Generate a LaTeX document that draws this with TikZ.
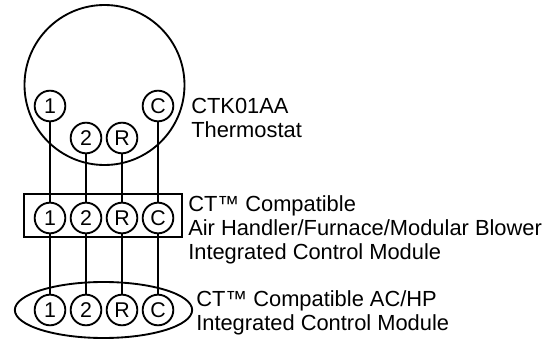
\documentclass[tikz,border=0pt]{standalone}
\usepackage{fontspec}
\setmainfont{Liberation Sans}
\usetikzlibrary{positioning,shapes.geometric}

\tikzset{
	wire/.style={line width=1.4pt},
	pin/.style={draw, circle, line width=1.4pt, inner sep=0pt, minimum size=23pt, font=\fontsize{16}{18}\selectfont},
	caption/.style={anchor=west, align=left, inner sep=0pt, font=\fontsize{16.4}{18}\selectfont},
}

\begin{document}
\begin{tikzpicture}[x=0.75pt, y=0.75pt]
	\useasboundingbox (0,0) rectangle (558,-339);

	% thermostat
	\node[draw, circle, line width=1.4pt, inner sep=0pt, minimum size=120pt] (stat) at (104.5,-85) {};
	\node[pin] (s1) at (50,-106) {1};
	\node[pin, right=56.6pt of s1] (sC) {C};
	\node[pin] (s2) at (86,-138) {2};
	\node[pin, right=2.6pt of s2] (sR) {R};

	% control module
	\node[draw, rectangle, line width=1.4pt, minimum width=119pt, minimum height=32pt, inner sep=0pt] (board) at (103,-215.5) {};
	\node[pin] (m1) at (50,-218) {1};
	\node[pin, right=2.6pt of m1] (m2) {2};
	\node[pin, right=2.6pt of m2] (mR) {R};
	\node[pin, right=2.6pt of mR] (mC) {C};

	% outdoor unit
	\node[draw, ellipse, line width=1.4pt, minimum width=133pt, minimum height=42pt, inner sep=0pt] (unit) at (103.5,-310) {};
	\node[pin] (b1) at (50,-310) {1};
	\node[pin, right=2.6pt of b1] (b2) {2};
	\node[pin, right=2.6pt of b2] (bR) {R};
	\node[pin, right=2.6pt of bR] (bC) {C};

	% wires
	\foreach \p/\q in {s1/m1, s2/m2, sR/mR, sC/mC, m1/b1, m2/b2, mR/bR, mC/bC}
		\draw[wire] (\p.south) -- (\q.north);

	% labels
	\node[caption] (statlabel) at (191,-118) {CTK01AA\\Thermostat};
	\node[caption] (boardlabel) at (188,-230) {CT™ Compatible\\Air Handler/Furnace/Modular Blower\\Integrated Control Module};
	\node[caption] (unitlabel) at (196,-312.5) {CT™ Compatible AC/HP\\Integrated Control Module};
\end{tikzpicture}
\end{document}
